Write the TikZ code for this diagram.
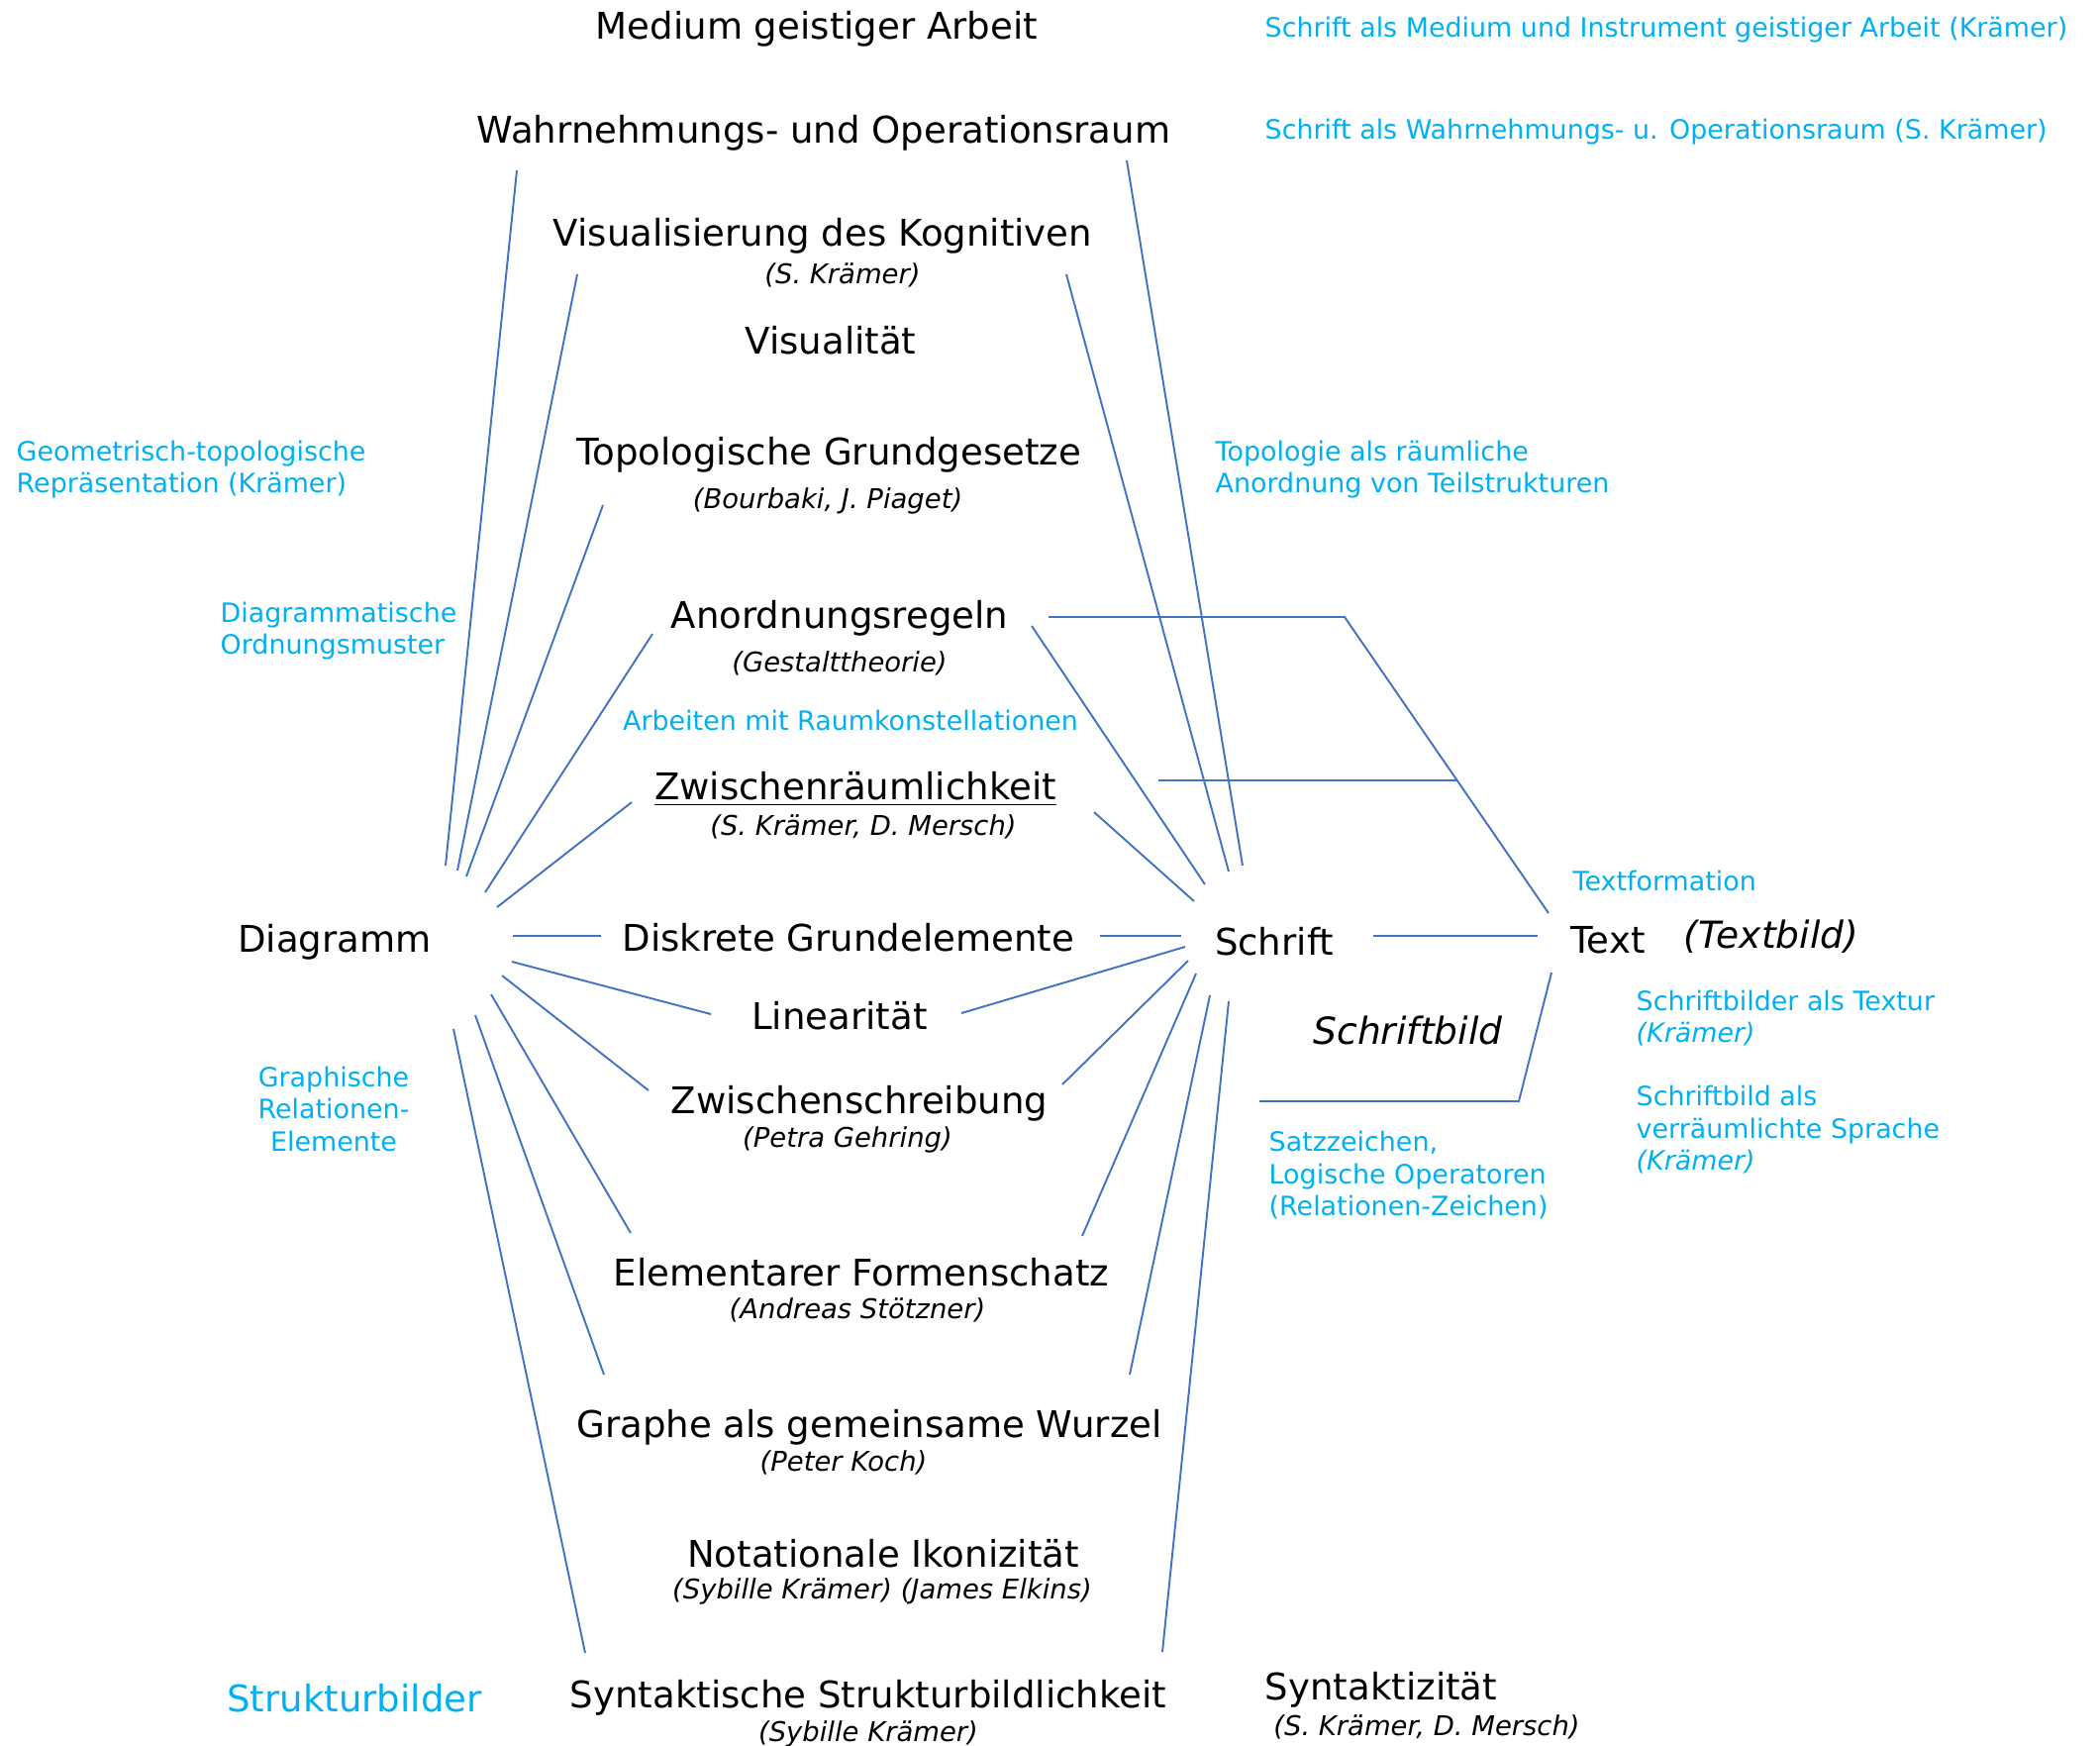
\documentclass[tikz,border=0pt]{standalone}
\usepackage{fontspec}
\setmainfont{DejaVu Sans}
\definecolor{linkblue}{HTML}{4472C4}
\definecolor{noteblue}{HTML}{00B0F0}
\tikzset{
  thema/.style={inner sep=0pt, yshift=-0.8pt, font=\fontsize{10.55}{12.6}\selectfont},
  quelle/.style={inner sep=0pt, yshift=-0.8pt, font=\fontsize{7.8}{9.4}\selectfont\itshape},
  notiz/.style={inner sep=0pt, yshift=-0.8pt, text=noteblue, font=\fontsize{7.65}{9.2}\selectfont, align=left, anchor=west},
  verbindung/.style={draw=linkblue, line width=0.55pt},
}
\begin{document}
\begin{tikzpicture}[x=0.01cm, y=-0.01cm]
        \useasboundingbox (0,0) rectangle (2121,1762);

        % Mittelspalte
        \node[thema] (medium) at (825,26) {Medium geistiger Arbeit};
        \node[thema] (wahrnehmung) at (832,131) {Wahrnehmungs- und Operationsraum};
        \node[thema] (visual) at (831,235) {Visualisierung des Kognitiven};
        \node[quelle] (visualq) at (851,275) {(S. Krämer)};
        \node[thema] (visualitaet) at (839,341) {Visualität};
        \node[thema] (topo) at (837,456) {Topologische Grundgesetze};
        \node[quelle] (topoq) at (836,503) {(Bourbaki, J. Piaget)};
        \node[thema] (anordnung) at (848,621) {Anordnungsregeln};
        \node[quelle] (anordnungq) at (848,667) {(Gestalttheorie)};
        \node[notiz, anchor=center] (arbeiten) at (859,725) {Arbeiten mit Raumkonstellationen};
        \node[thema] (zwraum) at (864,794) {\underline{Zwischenräumlichkeit}};
        \node[quelle] (zwraumq) at (872,832) {(S. Krämer, D. Mersch)};
        \node[thema] (diskret) at (857,944) {Diskrete Grundelemente};
        \node[thema] (linear) at (848,1023) {Linearität};
        \node[thema] (zwschreib) at (868,1111) {Zwischenschreibung};
        \node[quelle] (zwschreibq) at (856,1148) {(Petra Gehring)};
        \node[thema] (formen) at (870,1282) {Elementarer Formenschatz};
        \node[quelle] (formenq) at (866,1320) {(Andreas Stötzner)};
        \node[thema] (graphe) at (878,1438) {Graphe als gemeinsame Wurzel};
        \node[quelle] (grapheq) at (852,1474) {(Peter Koch)};
        \node[thema] (ikon) at (892,1566) {Notationale Ikonizität};
        \node[quelle] (ikonq) at (891,1604) {(Sybille Krämer) (James Elkins)};
        \node[thema] (syntakt) at (877,1711) {Syntaktische Strukturbildlichkeit};
        \node[quelle] (syntaktq) at (877,1748) {(Sybille Krämer)};

        % Pole
        \node[thema] (diagramm) at (338,948) {Diagramm};
        \node[thema] (schrift) at (1287,948) {Schrift};
        \node[thema] (text) at (1624,946) {Text};
        \node[thema, font=\fontsize{10.7}{12.8}\selectfont\itshape] (textbild) at (1789,943) {(Textbild)};
        \node[thema, font=\fontsize{10.7}{12.8}\selectfont\itshape] (schriftbild) at (1422,1038) {Schriftbild};
        \node[thema] (syntaxis) at (1395,1703) {Syntaktizität};
        \node[quelle] (syntaxisq) at (1441,1741) {(S. Krämer, D. Mersch)};
        \node[thema, text=noteblue] (strukturbilder) at (358,1712) {Strukturbilder};

        % Anmerkungen
        \node[notiz] (nmedium) at (1277,27) {Schrift als Medium und Instrument geistiger Arbeit (Krämer)};
        \node[notiz] (nraum) at (1277,130) {Schrift als Wahrnehmungs- u. Operationsraum (S. Krämer)};
        \node[notiz] (ngeo) at (16,471) {Geometrisch-topologische\\Repräsentation (Krämer)};
        \node[notiz] (ntopo) at (1227,471) {Topologie als räumliche\\Anordnung von Teilstrukturen};
        \node[notiz] (nordnung) at (222,634) {Diagrammatische\\Ordnungsmuster};
        \node[notiz] (ntextform) at (1588,887) {Textformation};
        \node[notiz] (ntextur) at (1652,1025) {Schriftbilder als Textur\\\textit{(Krämer)}};
        \node[notiz] (nsprache) at (1652,1138) {Schriftbild als\\verräumlichte Sprache\\\textit{(Krämer)}};
        \node[notiz, anchor=center, align=center] (ngraph) at (337,1117) {Graphische\\Relationen-\\Elemente};
        \node[notiz] (nsatz) at (1281,1184) {Satzzeichen,\\Logische Operatoren\\(Relationen-Zeichen)};

        % Enden der Linien am Diagramm
        \coordinate (d1) at (450,874);   \coordinate (e1) at (522,172);
        \coordinate (d2) at (462,879);   \coordinate (e2) at (583,277);
        \coordinate (d3) at (471,885);   \coordinate (e3) at (609,510);
        \coordinate (d4) at (490,901);   \coordinate (e4) at (659,640);
        \coordinate (d5) at (502,916);   \coordinate (e5) at (638,810);
        \coordinate (d6) at (518,945);   \coordinate (e6) at (607,945);
        \coordinate (d7) at (517,971);   \coordinate (e7) at (718,1024);
        \coordinate (d8) at (507,985);   \coordinate (e8) at (655,1101);
        \coordinate (d9) at (496,1004);  \coordinate (e9) at (637,1245);
        \coordinate (d10) at (480,1025); \coordinate (e10) at (610,1388);
        \coordinate (d11) at (458,1039); \coordinate (e11) at (591,1669);

        % Enden der Linien an der Schrift
        \coordinate (s1) at (1255,874);  \coordinate (t1) at (1138,162);
        \coordinate (s2) at (1241,880);  \coordinate (t2) at (1077,277);
        \coordinate (s3) at (1217,893);  \coordinate (t3) at (1042,632);
        \coordinate (s4) at (1206,910);  \coordinate (t4) at (1105,820);
        \coordinate (s5) at (1193,945);  \coordinate (t5) at (1111,945);
        \coordinate (s6) at (1197,956);  \coordinate (t6) at (971,1023);
        \coordinate (s7) at (1200,970);  \coordinate (t7) at (1073,1095);
        \coordinate (s8) at (1208,983);  \coordinate (t8) at (1093,1248);
        \coordinate (s9) at (1222,1005); \coordinate (t9) at (1141,1388);
        \coordinate (s10) at (1241,1011); \coordinate (t10) at (1174,1668);

        \foreach \i in {1,...,11}
          \draw[verbindung] (d\i) -- (e\i);
        \foreach \i in {1,...,10}
          \draw[verbindung] (s\i) -- (t\i);

        % Text
        \coordinate (ta) at (1059,623);
        \coordinate (tb) at (1358,623);
        \coordinate (tc) at (1564,922);
        \coordinate (za) at (1170,788);
        \coordinate (zb) at (1471,788);
        \coordinate (sa) at (1387,945);
        \coordinate (sb) at (1553,945);
        \coordinate (ua) at (1567,982);
        \coordinate (ub) at (1534,1112);
        \coordinate (uc) at (1272,1112);
        \draw[verbindung] (ta) -- (tb) -- (tc);
        \draw[verbindung] (za) -- (zb);
        \draw[verbindung] (sa) -- (sb);
        \draw[verbindung] (ua) -- (ub) -- (uc);
    \end{tikzpicture}
\end{document}
